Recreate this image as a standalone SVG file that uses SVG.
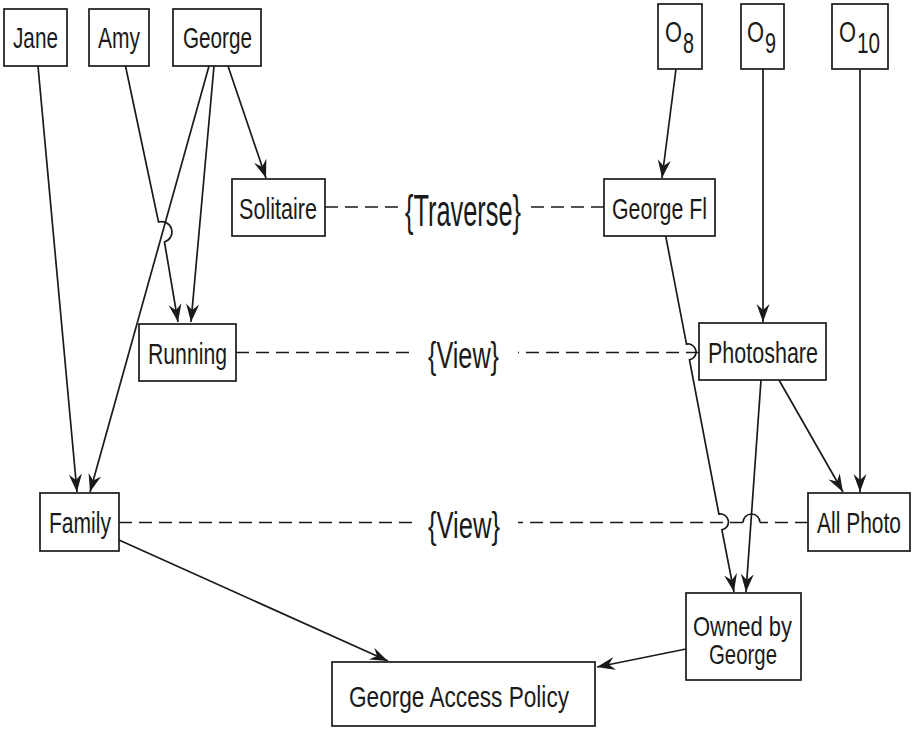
<svg xmlns="http://www.w3.org/2000/svg" width="912" height="729" viewBox="0 0 912 729">
  <style>
    .box { fill: #ffffff; stroke: #1a1a1a; stroke-width: 1.7; }
    .lbl { font-family: "Liberation Sans", Arial, Helvetica, sans-serif; font-size: 30px; fill: #1a1a1a; text-anchor: middle; }
    .lbl2 { font-family: "Liberation Sans", Arial, Helvetica, sans-serif; font-size: 28px; fill: #1a1a1a; text-anchor: middle; }
    .sub { font-family: "Liberation Sans", Arial, Helvetica, sans-serif; font-size: 30px; fill: #1a1a1a; }
    .op { font-family: "Liberation Sans", Arial, Helvetica, sans-serif; fill: #1a1a1a; text-anchor: middle; }
    .edge { fill: none; stroke: #1a1a1a; stroke-width: 1.7; marker-end: url(#arrow); }
    .hop { fill: none; stroke: #1a1a1a; stroke-width: 1.7; }
    .dash { fill: none; stroke: #1a1a1a; stroke-width: 1.7; stroke-dasharray: 13 7; }
  </style>
  <defs>
    <marker id="arrow" viewBox="-19 -8 20 16" markerWidth="20" markerHeight="16" refX="0" refY="0" orient="auto" markerUnits="userSpaceOnUse">
      <path d="M0,0 C-6,-2 -12,-4.5 -18,-6.5 L-12,0 L-18,6.5 C-12,4.5 -6,2 0,0 Z" fill="#1a1a1a"/>
    </marker>
  </defs>

  <rect width="912" height="729" fill="#ffffff"/>

  <!-- connectors -->
  <g id="connectors">
    <!-- people to groups -->
    <path class="edge" d="M38,66 L77,492"/>
    <path class="edge" d="M209,66 L90,492"/>
    <path class="edge" d="M125.5,66 L158.5,222 A10 10 0 0 1 164.5,242 L178,322"/>
    <path class="edge" d="M214,66 L191,322"/>
    <path class="edge" d="M228,66 L266,178"/>
    <!-- objects to object groups -->
    <path class="edge" d="M676,69 L662,178"/>
    <path class="edge" d="M763,69 L763,322"/>
    <path class="edge" d="M860,69 L860,492"/>
    <path class="edge" d="M779,380 L843,492"/>
    <path class="edge" d="M761,380 L746,592"/>
    <path class="edge" d="M665.7,236 L686.5,344.1 A8 8 0 0 1 689.5,359.9 L718.9,514.1 A8 8 0 0 1 721.9,529.9 L734,592"/>
    <!-- into the policy -->
    <path class="edge" d="M119,540 L388,661"/>
    <path class="edge" d="M686,649 L597,667"/>

    <!-- permission links -->
    <path class="dash" d="M325,207 H399"/>
    <path class="dash" d="M604,207 H527"/>
    <path class="dash" d="M236,352.5 H412"/>
    <path class="dash" d="M699,352.5 H518"/>
    <path class="dash" d="M119,522.5 H412"/>
    <path class="dash" d="M808,522.5 H760"/>
    <path class="hop" d="M743,522.5 A8.5 8.5 0 0 1 760,522.5"/>
    <path class="dash" d="M743,522.5 H518"/>
  </g>

  <!-- operation labels -->
  <text class="op" x="463" y="226" font-size="44" textLength="116" lengthAdjust="spacingAndGlyphs">{Traverse}</text>
  <text class="op" x="463.5" y="368" font-size="36" textLength="71" lengthAdjust="spacingAndGlyphs">{View}</text>
  <text class="op" x="464" y="538" font-size="36" textLength="72" lengthAdjust="spacingAndGlyphs">{View}</text>

  <!-- subjects -->
  <g id="jane">
    <rect class="box" x="4" y="9" width="63" height="57"/>
    <text class="lbl" x="35.5" y="48" textLength="45" lengthAdjust="spacingAndGlyphs">Jane</text>
  </g>
  <g id="amy">
    <rect class="box" x="89" y="9" width="60" height="57"/>
    <text class="lbl" x="119" y="48" textLength="42" lengthAdjust="spacingAndGlyphs">Amy</text>
  </g>
  <g id="george">
    <rect class="box" x="173" y="9" width="88" height="57"/>
    <text class="lbl" x="217.5" y="48" textLength="69" lengthAdjust="spacingAndGlyphs">George</text>
  </g>

  <!-- objects -->
  <g id="o8">
    <rect class="box" x="658" y="4" width="44" height="65"/>
    <text class="sub" x="665" y="42" textLength="17" lengthAdjust="spacingAndGlyphs">O</text>
    <text class="sub" x="683" y="53" textLength="11" lengthAdjust="spacingAndGlyphs">8</text>
  </g>
  <g id="o9">
    <rect class="box" x="741" y="4" width="43" height="65"/>
    <text class="sub" x="747" y="42" textLength="17" lengthAdjust="spacingAndGlyphs">O</text>
    <text class="sub" x="765" y="53" textLength="11" lengthAdjust="spacingAndGlyphs">9</text>
  </g>
  <g id="o10">
    <rect class="box" x="832" y="4" width="56" height="65"/>
    <text class="sub" x="839" y="42" textLength="17" lengthAdjust="spacingAndGlyphs">O</text>
    <text class="sub" x="857" y="53" textLength="23" lengthAdjust="spacingAndGlyphs">10</text>
  </g>

  <!-- subject groups -->
  <g id="solitaire">
    <rect class="box" x="232" y="179" width="93" height="57"/>
    <text class="lbl" x="278" y="219" textLength="78" lengthAdjust="spacingAndGlyphs">Solitaire</text>
  </g>
  <g id="running">
    <rect class="box" x="139" y="324" width="97" height="57"/>
    <text class="lbl" x="187.5" y="364" textLength="79" lengthAdjust="spacingAndGlyphs">Running</text>
  </g>
  <g id="family">
    <rect class="box" x="40" y="493" width="79" height="58"/>
    <text class="lbl" x="80" y="533" textLength="62" lengthAdjust="spacingAndGlyphs">Family</text>
  </g>

  <!-- object groups -->
  <g id="george-fl">
    <rect class="box" x="604" y="179" width="111" height="57"/>
    <text class="lbl" x="659.5" y="219" textLength="95" lengthAdjust="spacingAndGlyphs">George Fl</text>
  </g>
  <g id="photoshare">
    <rect class="box" x="699" y="323" width="127" height="57"/>
    <text class="lbl" x="763" y="363" textLength="110" lengthAdjust="spacingAndGlyphs">Photoshare</text>
  </g>
  <g id="all-photo">
    <rect class="box" x="808" y="493" width="102" height="58"/>
    <text class="lbl" x="859" y="533" textLength="84" lengthAdjust="spacingAndGlyphs">All Photo</text>
  </g>
  <g id="owned-by-george">
    <rect class="box" x="686" y="593" width="115" height="87"/>
    <text class="lbl2" x="742.5" y="636" textLength="99" lengthAdjust="spacingAndGlyphs">Owned by</text>
    <text class="lbl2" x="743" y="664" textLength="68" lengthAdjust="spacingAndGlyphs">George</text>
  </g>

  <!-- policy -->
  <g id="george-access-policy">
    <rect class="box" x="332" y="662" width="263" height="64"/>
    <text class="lbl" x="459" y="707" textLength="220" lengthAdjust="spacingAndGlyphs">George Access Policy</text>
  </g>
</svg>
